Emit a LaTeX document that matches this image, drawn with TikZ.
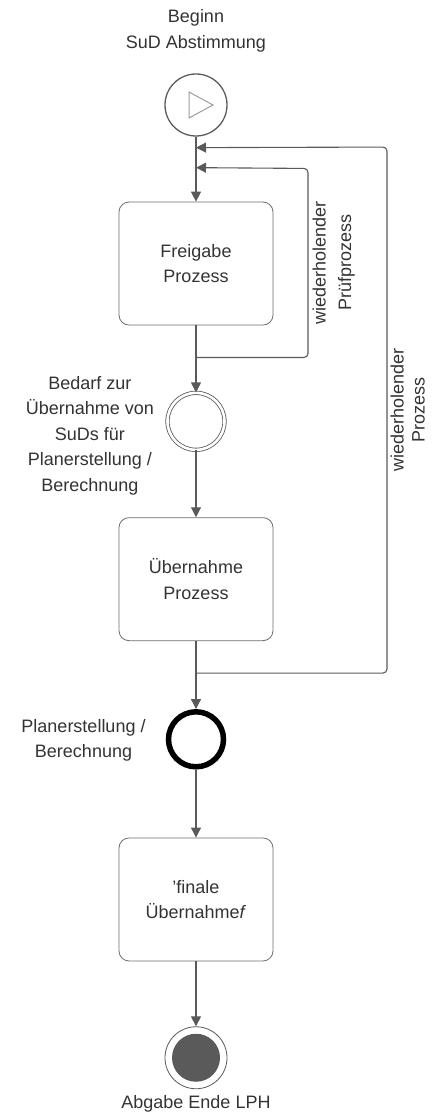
\documentclass[tikz,border=0pt]{standalone}
\usepackage{fontspec}
\setmainfont{Liberation Sans}
\usetikzlibrary{arrows.meta,positioning}

\definecolor{linegray}{HTML}{5A5A5A}
\definecolor{textgray}{HTML}{333333}

\begin{document}
\begin{tikzpicture}[
  x=1pt,y=1pt,
  node distance=65pt,
  every node/.style={text=textgray,font=\fontsize{18}{25.5}\selectfont},
  task/.style={draw=linegray!90,rounded corners=10pt,line width=0.8pt,
    align=center,minimum width=154pt,minimum height=123pt,inner sep=0pt},
  startev/.style={circle,draw=linegray,line width=1.3pt,minimum size=62pt,inner sep=0pt},
  interev/.style={circle,draw=linegray,line width=0.8pt,double=white,double distance=2.6pt,
    minimum size=57pt,inner sep=0pt},
  bigev/.style={circle,draw=black,line width=5.5pt,minimum size=55pt,inner sep=0pt},
  endev/.style={circle,draw=linegray,line width=0.8pt,fill=white,minimum size=62pt,inner sep=0pt},
  evlabel/.style={align=center,inner sep=0pt},
  looplabel/.style={align=center,rotate=90,anchor=north,inner sep=4pt},
  flow/.style={-{Triangle[length=10pt,width=10pt]},line width=1.1pt,draw=linegray},
  back/.style={flow,rounded corners=4pt}
]
  \useasboundingbox (0,0) rectangle (432,-1115);

  \node[startev] (start) at (196,-105) {};
  \draw[draw=linegray!60,line width=1pt]
    (start.center) ++(-7,13) -- ++(24,-13) -- ++(-24,-13) -- cycle;
  \node[evlabel,above=21pt of start] (startlbl) {Beginn\\SuD Abstimmung};

  \node[task,below=of start] (freigabe) {Freigabe\\Prozess};
  \node[interev,below=67pt of freigabe] (bedarf) {};
  \node[evlabel,left=13pt of bedarf,yshift=-14pt] (bedarflbl)
    {Bedarf zur\\Übernahme von\\SuDs für\\Planerstellung /\\Berechnung};
  \node[task,below=67pt of bedarf] (uebernahme) {Übernahme\\Prozess};
  \node[bigev,below=68pt of uebernahme] (planung) {};
  \node[evlabel,left=20pt of planung,yshift=-1pt] (planunglbl) {Planerstellung /\\Berechnung};
  \node[task,below=68pt of planung] (finale) {'finale\\Übernahme\textit{f}};
  \node[endev,below=of finale] (ende) {};
  \fill[linegray] (ende.center) circle (24pt);
  \node[evlabel,below=6pt of ende] (endelbl) {Abgabe Ende LPH};

  % junctions of the two loops on the main line
  \coordinate[below=32pt of freigabe] (j1);
  \coordinate[below=32pt of uebernahme] (j2);
  \coordinate[above=34pt of freigabe] (in1);
  \coordinate[above=54pt of freigabe] (in2);

  \draw[flow] (start) -- (freigabe);
  \draw[flow] (freigabe) -- (bedarf);
  \draw[flow] (bedarf) -- (uebernahme);
  \draw[flow] (uebernahme) -- (planung);
  \draw[flow] (planung) -- (finale);
  \draw[flow] (finale) -- (ende);

  \draw[back] (j1) -- ++(112,0) -- ++(0,189)
    node[midway,looplabel] {wiederholender\\Prüfprozess} -- (in1);
  \draw[back] (j2) -- ++(191,0) -- ++(0,526)
    node[pos=0.5,looplabel,inner sep=3pt,
      font=\fontsize{18}{21}\selectfont] {wiederholender\\Prozess} -- (in2);
\end{tikzpicture}
\end{document}
